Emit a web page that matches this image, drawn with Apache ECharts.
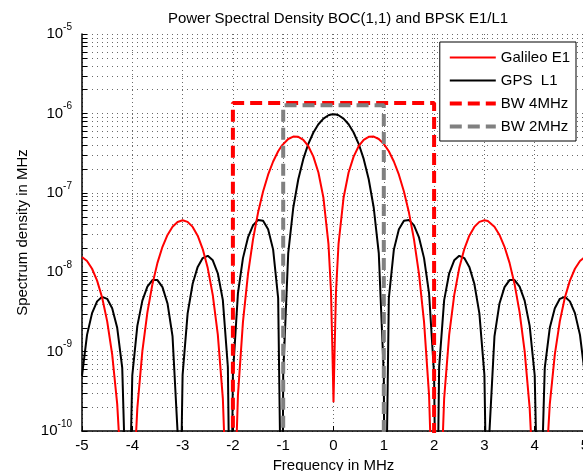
<!DOCTYPE html>
<html><head><meta charset="utf-8">
<script src="https://cdn.jsdelivr.net/npm/echarts@6/dist/echarts.min.js"></script>
<style>html,body{margin:0;padding:0;background:#fff}#c{width:583px;height:471px}</style>
</head><body><div id="c"></div>
<script>
// Frequency samples (MHz)
const freq = [-5.0,-4.9,-4.8,-4.7,-4.6,-4.5,-4.4,-4.3,-4.2,-4.1,-4.092,-4.0,-3.9,-3.8,-3.7,-3.6,-3.5,-3.4,-3.3,-3.2,-3.1,-3.069,-3.0,-2.9,-2.8,-2.7,-2.6,-2.5,-2.4,-2.3,-2.2,-2.1,-2.046,-2.0,-1.9,-1.8,-1.7,-1.6,-1.5,-1.4,-1.3,-1.2,-1.1,-1.023,-1.0,-0.9,-0.8,-0.7,-0.6,-0.5,-0.4,-0.3,-0.2,-0.1,-0.05,-0.02,0,0.02,0.05,0.1,0.2,0.3,0.4,0.5,0.6,0.7,0.8,0.9,1.0,1.023,1.1,1.2,1.3,1.4,1.5,1.6,1.7,1.8,1.9,2.0,2.046,2.1,2.2,2.3,2.4,2.5,2.6,2.7,2.8,2.9,3.0,3.069,3.1,3.2,3.3,3.4,3.5,3.6,3.7,3.8,3.9,4.0,4.092,4.1,4.2,4.3,4.4,4.5,4.6,4.7,4.8,4.9,5.0];

// Galileo E1 (BOC(1,1)) spectral density
const galileoE1 = [1.558e-8,1.383e-8,1.105e-8,7.833e-9,4.794e-9,2.419e-9,9.218e-10,2.179e-10,1.745e-11,1e-12,1e-12,1.018e-11,1.943e-10,1.014e-9,3.113e-9,7.070e-9,1.311e-8,2.089e-8,2.944e-8,3.732e-8,4.295e-8,4.402e-8,4.504e-8,4.302e-8,3.721e-8,2.882e-8,1.958e-8,1.127e-8,5.150e-9,1.638e-9,2.580e-10,4.423e-12,1e-12,2.571e-12,2.805e-10,2.368e-9,9.452e-9,2.593e-8,5.633e-8,1.039e-7,1.689e-7,2.479e-7,3.332e-7,3.962e-7,4.136e-7,4.764e-7,5.100e-7,5.063e-7,4.632e-7,3.858e-7,2.858e-7,1.799e-7,8.655e-8,2.269e-8,5.76e-9,9.2e-10,
  2.3e-10,
  9.2e-10,5.76e-9,2.269e-8,8.655e-8,1.799e-7,2.858e-7,3.858e-7,4.632e-7,5.063e-7,5.100e-7,4.764e-7,4.136e-7,3.962e-7,3.332e-7,2.479e-7,1.689e-7,1.039e-7,5.633e-8,2.593e-8,9.452e-9,2.368e-9,2.805e-10,2.571e-12,1e-12,4.423e-12,2.580e-10,1.638e-9,5.150e-9,1.127e-8,1.958e-8,2.882e-8,3.721e-8,4.302e-8,4.504e-8,4.402e-8,4.295e-8,3.732e-8,2.944e-8,2.089e-8,1.311e-8,7.070e-9,3.113e-9,1.014e-9,1.943e-10,1.018e-11,1e-12,1e-12,1.745e-11,2.179e-10,9.218e-10,2.419e-9,4.794e-9,7.833e-9,1.105e-8,1.383e-8,1.558e-8];

// GPS L1 (BPSK(1)) spectral density
const gpsL1 = [4.960e-10,1.624e-9,3.050e-9,4.292e-9,4.898e-9,4.619e-9,3.521e-9,1.993e-9,6.230e-10,3.720e-12,1e-12,5.035e-10,2.107e-9,4.381e-9,6.597e-9,7.969e-9,7.955e-9,6.482e-9,4.038e-9,1.552e-9,9.745e-11,1e-12,5.094e-10,3.032e-9,7.148e-9,1.166e-8,1.507e-8,1.607e-8,1.410e-8,9.692e-9,4.443e-9,6.404e-10,1e-12,5.137e-10,5.395e-9,1.504e-8,2.737e-8,3.887e-8,4.555e-8,4.436e-8,3.466e-8,1.925e-8,4.701e-9,1e-12,5.163e-10,1.741e-8,6.480e-8,1.482e-7,2.672e-7,4.141e-7,5.748e-7,7.304e-7,8.606e-7,9.472e-7,9.698e-7,9.763e-7,
  9.775e-7,
  9.763e-7,9.698e-7,9.472e-7,8.606e-7,7.304e-7,5.748e-7,4.141e-7,2.672e-7,1.482e-7,6.480e-8,1.741e-8,5.163e-10,1e-12,4.701e-9,1.925e-8,3.466e-8,4.436e-8,4.555e-8,3.887e-8,2.737e-8,1.504e-8,5.395e-9,5.137e-10,1e-12,6.404e-10,4.443e-9,9.692e-9,1.410e-8,1.607e-8,1.507e-8,1.166e-8,7.148e-9,3.032e-9,5.094e-10,1e-12,9.745e-11,1.552e-9,4.038e-9,6.482e-9,7.955e-9,7.969e-9,6.597e-9,4.381e-9,2.107e-9,5.035e-10,1e-12,3.720e-12,6.230e-10,1.993e-9,3.521e-9,4.619e-9,4.898e-9,4.292e-9,3.050e-9,1.624e-9,4.960e-10];

// Bandwidth boxes
const bw4Freq = [-2, -2, 2, 2];
const bw4Val  = [1e-12, 1.35e-6, 1.35e-6, 1e-12];
const bw2Freq = [-1, -1, 1, 1];
const bw2Val  = [1e-12, 1.27e-6, 1.27e-6, 1e-12];

// Axis ranges / ticks
const xMin = -5, xMax = 5, xStep = 1;
const yMinExp = -10, yMaxExp = -5;
const seriesNames = ['Galileo E1', 'GPS  L1', 'BW 4MHz', 'BW 2MHz'];

const pairs = (xs, ys) => xs.map((x, i) => [x, ys[i]]);

// minor log grid values (2..9 x decade)
const minorVals = [];
for (let e = yMinExp; e < yMaxExp; e++) for (let m = 2; m <= 9; m++) minorVals.push(m * Math.pow(10, e));

const FONT = 'Liberation Sans, Arial, Helvetica, sans-serif';
const chart = echarts.init(document.getElementById('c'), null, {renderer: 'canvas'});
const GRIDC = '#6a6a6a';
const gridDot = {color: GRIDC, width: 1, type: [1, 4]};

chart.setOption({
  animation: false,
  backgroundColor: '#fff',
  textStyle: {fontFamily: FONT},
  title: {
    text: 'Power Spectral Density BOC(1,1) and BPSK E1/L1',
    left: 333, top: 6, textAlign: 'center',
    textStyle: {fontSize: 15, fontWeight: 'normal', color: '#000', fontFamily: FONT}
  },
  legend: {
    orient: 'vertical', right: 7, top: 42,
    data: seriesNames,
    itemWidth: 46, itemHeight: 14, itemGap: 8,
    padding: [8, 6, 7, 8],
    itemStyle: {opacity: 0},
    lineStyle: {width: 'inherit'},
    backgroundColor: '#fff', borderColor: '#000', borderWidth: 1,
    textStyle: {fontSize: 15, color: '#000', fontFamily: FONT}
  },
  grid: {left: 82, right: -2, top: 34, bottom: 40, containLabel: false, outerBoundsMode: 'none'},
  xAxis: {
    type: 'value', min: xMin, max: xMax, interval: xStep,
    name: 'Frequency in MHz', nameLocation: 'middle', nameGap: 26,
    nameTextStyle: {fontSize: 15, color: '#000', fontFamily: FONT},
    axisLine: {show: true, onZero: false, lineStyle: {color: '#000', width: 1.5}},
    axisTick: {show: true, inside: true, length: 5, lineStyle: {color: '#000'}},
    axisLabel: {fontSize: 15, color: '#000', margin: 7, fontFamily: FONT, showMaxLabel: true, showMinLabel: true},
    splitLine: {show: true, lineStyle: {color: GRIDC, width: 1, type: [1, 3]}}
  },
  yAxis: {
    type: 'log', logBase: 10, min: Math.pow(10, yMinExp), max: Math.pow(10, yMaxExp),
    name: 'Spectrum density in MHz', nameLocation: 'middle', nameGap: 52, nameRotate: 90,
    nameTextStyle: {fontSize: 15, color: '#000', fontFamily: FONT},
    axisLine: {show: true, onZero: false, lineStyle: {color: '#000', width: 1.5}},
    axisTick: {show: true, inside: true, length: 5, lineStyle: {color: '#000'}},
    axisLabel: {
      margin: 10,
      formatter: v => '{b|10}{s|' + Math.round(Math.log10(v)) + '}',
      rich: {
        b: {fontSize: 15, color: '#000', lineHeight: 24, fontFamily: FONT},
        s: {fontSize: 10, color: '#000', lineHeight: 9, verticalAlign: 'top', fontFamily: FONT}
      }
    },
    splitLine: {show: true, lineStyle: gridDot}
  },
  series: [
    {
      name: 'minorGrid', type: 'custom', silent: true, z: 1, clip: false,
      data: minorVals.map(v => [xMin, v]),
      encode: {x: 0, y: 1},
      renderItem: (params, api) => {
        const v = api.value(1);
        const p1 = api.coord([xMin, v]);
        const p2 = api.coord([xMax, v]);
        const y = Math.round(p1[1]) + 0.5;
        return {type: 'group', children: [
          {type: 'line', shape: {x1: p1[0], y1: y, x2: p2[0], y2: y}, style: {stroke: GRIDC, lineWidth: 1, lineDash: [1, 4]}},
          {type: 'line', shape: {x1: p1[0], y1: y, x2: p1[0] + 5, y2: y}, style: {stroke: '#000', lineWidth: 1}}
        ]};
      }
    },
    {
      name: seriesNames[1], type: 'line', data: pairs(freq, gpsL1),
      showSymbol: false, symbol: 'none', clip: true, z: 2,
      lineStyle: {color: '#000', width: 2}, itemStyle: {color: '#000'}
    },
    {
      name: seriesNames[0], type: 'line', data: pairs(freq, galileoE1),
      showSymbol: false, symbol: 'none', clip: true, z: 3,
      lineStyle: {color: '#ff0000', width: 2}, itemStyle: {color: '#ff0000'}
    },
    {
      name: seriesNames[2], type: 'line', data: pairs(bw4Freq, bw4Val),
      showSymbol: false, symbol: 'none', clip: true, z: 4,
      lineStyle: {color: '#ff0000', width: 4, type: [12, 6]}, itemStyle: {color: '#ff0000'}
    },
    {
      name: seriesNames[3], type: 'line', data: pairs(bw2Freq, bw2Val),
      showSymbol: false, symbol: 'none', clip: true, z: 5,
      lineStyle: {color: '#808080', width: 4, type: [12, 6]}, itemStyle: {color: '#808080'}
    }
  ]
});
</script></body></html>
